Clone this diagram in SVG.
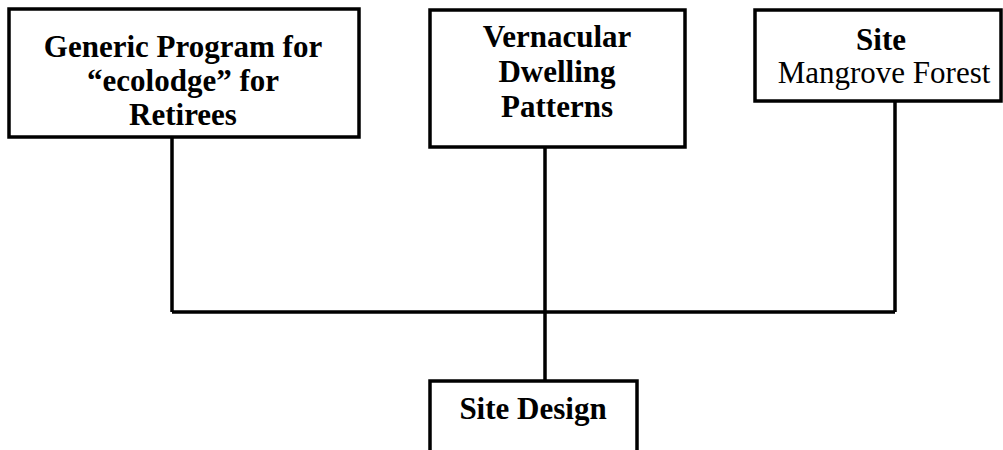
<svg xmlns="http://www.w3.org/2000/svg" width="1003" height="450" viewBox="0 0 1003 450">
<style>
.box{fill:#fff;stroke:#000;stroke-width:3.5}
.ln{fill:none;stroke:#000;stroke-width:3.5}
.t{font-family:"Liberation Serif","Times New Roman",serif;font-size:31px;fill:#000;text-anchor:middle}
.b{font-weight:bold}
</style>
<rect width="1003" height="450" fill="#fff"/>
<g id="connectors">
<path class="ln" d="M172 137 V312 M895 101 V312 M172 312 H895 M545 147 V381"/>
</g>
<g id="generic">
<rect class="box" x="9" y="9" width="350" height="128"/>
<text class="t b" x="183" y="57">Generic Program for</text>
<text class="t b" x="183" y="91">“ecolodge” for</text>
<text class="t b" x="183" y="125">Retirees</text>
</g>
<g id="vernacular">
<rect class="box" x="430" y="10" width="255" height="137"/>
<text class="t b" x="557" y="47">Vernacular</text>
<text class="t b" x="557" y="82">Dwelling</text>
<text class="t b" x="557" y="117">Patterns</text>
</g>
<g id="site">
<rect class="box" x="755" y="10" width="246" height="91"/>
<text class="t b" x="881" y="50">Site</text>
<text class="t" x="884" y="83">Mangrove Forest</text>
</g>
<g id="sitedesign">
<rect class="box" x="430" y="381" width="207" height="100"/>
<text class="t b" x="533" y="419">Site Design</text>
</g>
</svg>
